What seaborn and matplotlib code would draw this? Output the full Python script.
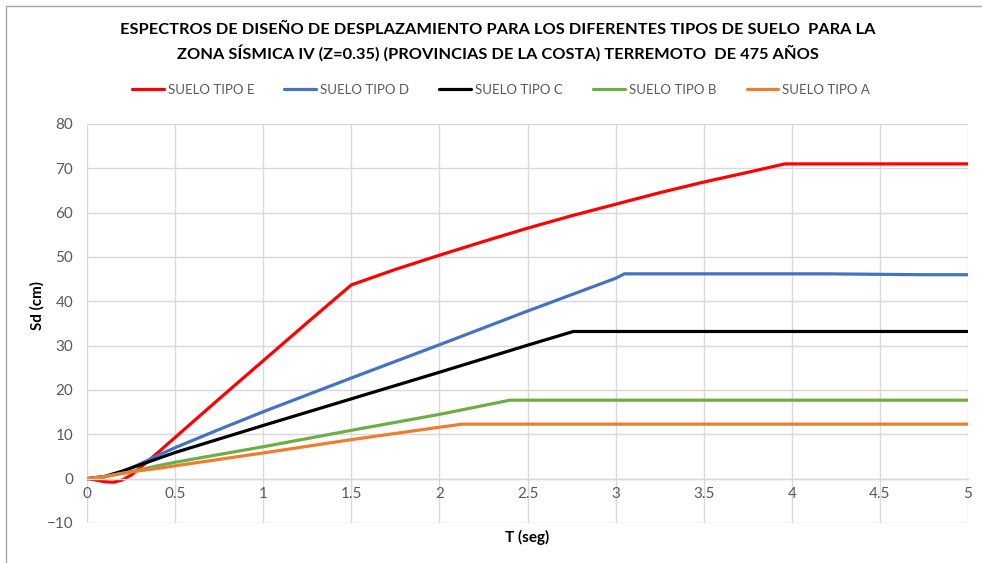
import numpy as np
import pandas as pd
import matplotlib
matplotlib.use("Agg")
import matplotlib.pyplot as plt
import seaborn as sns
from matplotlib.lines import Line2D

# ---- data ----
t_e = [0, 0.05, 0.1, 0.15, 0.2, 0.25, 0.3, 0.4, 0.5, 0.75, 1.0, 1.25, 1.5, 1.75, 2.0, 2.25, 2.5, 2.75, 3.0, 3.25, 3.5, 3.75, 3.96, 5.0]
sd_e = [0, -0.3, -0.7, -0.8, -0.3, 0.8, 2.4, 5.8, 9.3, 18.0, 26.6, 35.2, 43.7, 47.2, 50.4, 53.5, 56.5, 59.3, 61.9, 64.5, 66.9, 69.1, 71.0, 71.0]

t_d = [0, 0.1, 0.2, 0.3, 0.4, 0.5, 0.75, 1.0, 1.5, 2.0, 2.5, 3.0, 3.05, 4.2, 4.75, 5.0]
sd_d = [0, 0.4, 1.5, 3.3, 5.2, 7.0, 11.1, 15.1, 22.7, 30.2, 37.8, 45.2, 46.2, 46.2, 46.0, 46.0]

t_c = [0, 0.1, 0.2, 0.3, 0.4, 0.5, 1.0, 1.5, 2.0, 2.5, 2.76, 5.0]
sd_c = [0, 0.5, 1.7, 3.1, 4.5, 5.9, 12.0, 18.0, 24.0, 30.1, 33.2, 33.2]

t_b = [0, 0.1, 0.2, 0.3, 0.4, 0.5, 1.0, 1.5, 2.0, 2.4, 5.0]
sd_b = [0, 0.4, 1.2, 2.0, 2.9, 3.7, 7.2, 10.9, 14.5, 17.7, 17.7]

t_a = [0, 0.1, 0.2, 0.3, 0.4, 0.5, 1.0, 1.5, 2.0, 2.13, 5.0]
sd_a = [0, 0.5, 1.2, 1.8, 2.3, 2.9, 5.8, 8.8, 11.6, 12.3, 12.3]

series_names = ["SUELO TIPO E", "SUELO TIPO D", "SUELO TIPO C", "SUELO TIPO B", "SUELO TIPO A"]
series_colors = ["#FF0000", "#4472C4", "#000000", "#70AD47", "#ED7D31"]

x_ticks = [0, 0.5, 1, 1.5, 2, 2.5, 3, 3.5, 4, 4.5, 5]
x_tick_labels = ["0", "0.5", "1", "1.5", "2", "2.5", "3", "3.5", "4", "4.5", "5"]
y_ticks = [-10, 0, 10, 20, 30, 40, 50, 60, 70, 80]

title_line1 = "ESPECTROS DE DISEÑO DE DESPLAZAMIENTO PARA LOS DIFERENTES TIPOS DE SUELO  PARA LA"
title_line2 = "ZONA SÍSMICA IV (Z=0.35) (PROVINCIAS DE LA COSTA) TERREMOTO  DE 475 AÑOS"

# ---- build long table ----
frames = []
for name, t, sd in zip(series_names, [t_e, t_d, t_c, t_b, t_a], [sd_e, sd_d, sd_c, sd_b, sd_a]):
    frames.append(pd.DataFrame({"T": t, "Sd": sd, "serie": name}))
df = pd.concat(frames, ignore_index=True)

sns.set_theme(style="white")
plt.rcParams["font.family"] = ["Lato", "DejaVu Sans"]

fig = plt.figure(figsize=(9.82, 5.63), dpi=100)
ax = fig.add_axes([87 / 982, 1 - 523 / 563, (968 - 87) / 982, (523 - 124) / 563])

sns.lineplot(data=df, x="T", y="Sd", hue="serie", hue_order=series_names,
             palette=dict(zip(series_names, series_colors)), estimator=None,
             sort=False, linewidth=2.3, ax=ax, legend=True)

ax.set_xlim(0, 5)
ax.set_ylim(-10, 80)
ax.set_xticks(x_ticks)
ax.set_xticklabels(x_tick_labels)
ax.set_yticks(y_ticks)
ax.grid(True, color="#D9D9D9", linewidth=1.0)
ax.set_axisbelow(True)
for s in ["top", "right", "left"]:
    ax.spines[s].set_visible(False)
ax.spines["bottom"].set_position(("data", 0))
ax.spines["bottom"].set_color("#D9D9D9")
ax.spines["bottom"].set_linewidth(1.0)
ax.tick_params(axis="both", length=0, labelsize=11, colors="#595959")
ax.tick_params(axis="x", pad=6)
ax.tick_params(axis="y", pad=10)

ax.set_xlabel("")
ax.set_ylabel("")
fig.text(527 / 982, 1 - 537 / 563, "T (seg)", ha="center", va="center",
         fontsize=11, fontweight="bold", color="#000000")
fig.text(37 / 982, 1 - 305 / 563, "Sd (cm)", ha="center", va="center", rotation=90,
         fontsize=11, fontweight="bold", color="#000000")

fig.text(498 / 982, 1 - 30 / 563, title_line1, ha="center", va="center",
         fontsize=11.8, fontweight="bold", color="#000000")
fig.text(498 / 982, 1 - 53 / 563, title_line2, ha="center", va="center",
         fontsize=11.8, fontweight="bold", color="#000000")

handles, labels = ax.get_legend_handles_labels()
ax.get_legend().remove()
fig.legend(handles, labels, loc="center", bbox_to_anchor=(501 / 982, 1 - 90 / 563),
           ncol=5, frameon=False, fontsize=9.5, labelcolor="#595959",
           handlelength=2.4, handletextpad=0.3, columnspacing=2.3)

# outer chart border (partially visible in the reference)
fig.add_artist(Line2D([6 / 982, 6 / 982], [0, 1 - 6 / 563], transform=fig.transFigure,
                      color="#A6A6A6", linewidth=1.0))
fig.add_artist(Line2D([6 / 982, 1], [1 - 6 / 563, 1 - 6 / 563], transform=fig.transFigure,
                      color="#A6A6A6", linewidth=1.0))

fig.savefig("out.png", dpi=100)
